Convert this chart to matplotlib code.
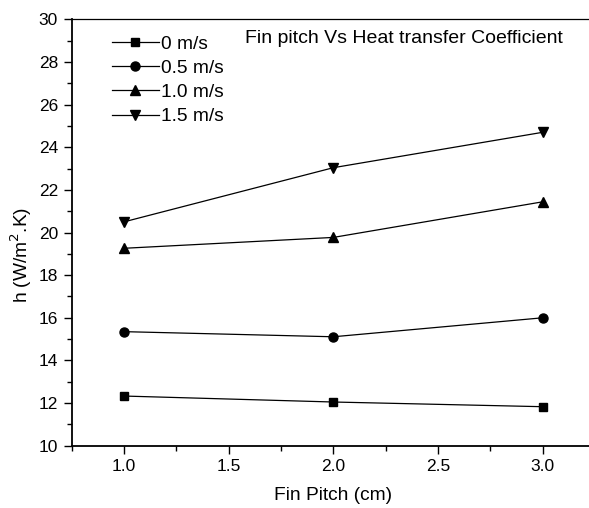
import numpy as np
from matplotlib import pyplot as plt
from matplotlib.ticker import MultipleLocator

plt.rcParams['font.family'] = ['Liberation Sans', 'DejaVu Sans']

# data
fin_pitch = [1.0, 2.0, 3.0]
h_0 = [12.33, 12.05, 11.83]
h_05 = [15.35, 15.11, 16.0]
h_10 = [19.26, 19.77, 21.44]
h_15 = [20.5, 23.04, 24.7]
labels = ["0 m/s", "0.5 m/s", "1.0 m/s", "1.5 m/s"]
markers = ['s', 'o', '^', 'v']
sizes = [6, 6.5, 7, 7]

fig = plt.figure(figsize=(5.89, 5.08), dpi=100)
ax = fig.add_axes([0.1217, 0.1226, 0.8885, 0.8394])

for y, lab, m, ms in zip([h_0, h_05, h_10, h_15], labels, markers, sizes):
    ax.plot(fin_pitch, y, color='black', lw=0.9, marker=m, markersize=ms, label=lab)

ax.set_xlim(0.75, 3.25)
ax.set_ylim(10, 30)
ax.xaxis.set_major_locator(MultipleLocator(0.5))
ax.xaxis.set_minor_locator(MultipleLocator(0.25))
ax.yaxis.set_major_locator(MultipleLocator(2))
ax.yaxis.set_minor_locator(MultipleLocator(1))
ax.tick_params(which='major', direction='out', length=5.8, width=1, labelsize=12.5, pad=4)
ax.tick_params(which='minor', direction='out', length=3.5, width=1)
ax.spines['right'].set_visible(False)
for s in ['left', 'bottom']:
    ax.spines[s].set_linewidth(1.3)
ax.spines['top'].set_linewidth(0.9)

ax.set_xlabel("Fin Pitch (cm)", fontsize=13.8, labelpad=9)
ax.set_ylabel("h (W/m$^2$.K)", fontsize=13.8, va='center')
ax.yaxis.set_label_coords(-0.097, 0.447)
ax.text(1.578, 29.12, "Fin pitch Vs Heat transfer Coefficient", fontsize=14, va='center')

ax.legend(loc='upper left', bbox_to_anchor=(0.077, 0.962), frameon=False, fontsize=13.8,
          handlelength=2.45, handletextpad=0.1, labelspacing=0.35, borderaxespad=0,
          borderpad=0)

plt.savefig("out.png", dpi=100)
